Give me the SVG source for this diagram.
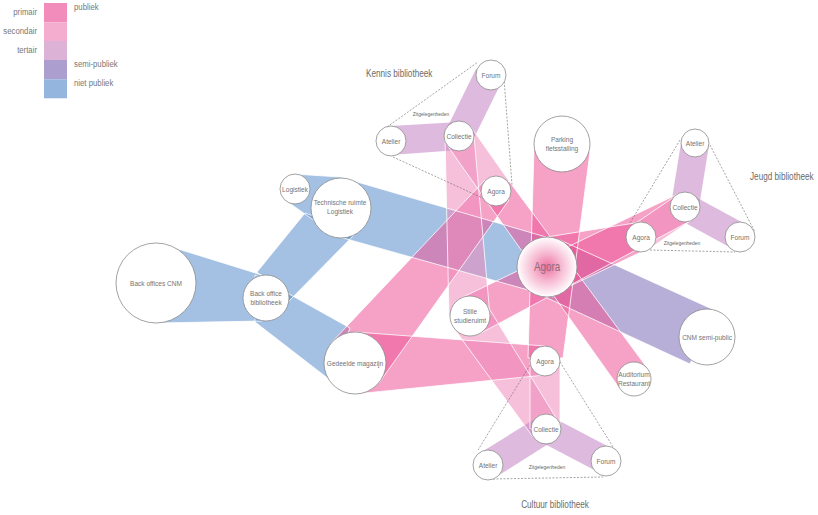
<svg xmlns="http://www.w3.org/2000/svg" xmlns:xlink="http://www.w3.org/1999/xlink" width="818" height="515" viewBox="0 0 818 515">
<style>
.f{stroke:none;fill-opacity:0.55}
.pri{fill:#ed5697}.sec{fill:#ef8bbb}.ter{fill:#c181c3}.semi{fill:#7e6db8}.blue{fill:#598ecc}
.e{fill:none;stroke:#fff;stroke-width:0.8}
.d{fill:none;stroke:#666;stroke-width:0.6;stroke-dasharray:2 1.5}
.n{fill:#fff;stroke:#8a8a8a;stroke-width:0.8}
text{font-family:"Liberation Sans",Arial,sans-serif;fill:#737373;transform-box:fill-box;transform:scaleX(0.82);transform-origin:50% 50%}
.l{font-size:8px;text-anchor:middle}
.t{font-size:10px;fill:#6b6b6b;transform-origin:0% 50%}
.tc{text-anchor:middle;transform-origin:50% 50%}
.z{font-size:6px;text-anchor:middle;fill:#666}
.g{font-size:9.5px;fill:#777;transform-origin:0% 50%}
.r{text-anchor:end;transform-origin:100% 50%}
</style>
<defs>
<radialGradient id="ag" cx="0.5" cy="0.5" r="0.5">
<stop offset="0" stop-color="#ef6fa0"/>
<stop offset="0.45" stop-color="#f6b6cf"/>
<stop offset="1" stop-color="#ffffff"/>
</radialGradient>
<polygon id="b1" points="175,248 262,275 262,321 158,323"/>
<polygon id="b2" points="255,275 350,328 330,380 255,322"/>
<polygon id="b3" points="257,272 305,213 357,232 288,302"/>
<polygon id="b4" points="294,174 340,177 546,237 553,297 336,236 288,202"/>
<polygon id="s1" points="560,240 712,309 690,364 545,297"/>
<polygon id="p1" points="534,148 590,152 563,358 528,358"/>
<polygon id="p2" points="331,343 485,180 509,200 379,383"/>
<polygon id="p3" points="355,332 545,346 545,375 355,394"/>
<polygon id="p5" points="509,181 648,369 620,389 485,199"/>
<polygon id="p6" points="461,298 678,194 692,220 479,334"/>
<polygon id="p7" points="547,237 641,222 641,252 547,297"/>
<polygon id="k2" points="471,127 509,181 485,199 447,145"/>
<polygon id="k3" points="445,136 474,136 490,316 449,316"/>
<polygon id="j2" points="677,195 693,219 649,249 633,225"/>
<polygon id="c2" points="530,360 560,360 560,429 530,429"/>
<polygon id="c3" points="487,305 558,421 533,437 453,327"/>
<polygon id="kt1" points="391,126 459,122 459,150 391,155"/>
<polygon id="kt2" points="476,69 502,81 472,142 446,130"/>
<polygon id="jt1" points="681,143 709,145 699,207 671,205"/>
<polygon id="jt2" points="692,195 747,225 733,249 678,219"/>
<polygon id="ct1" points="480,453 538,417 553,441 496,477"/>
<polygon id="ct2" points="539,441 552,417 613,449 600,473"/>
</defs>
<rect width="818" height="515" fill="#fff"/>

<g id="legend">
<rect x="44" y="3" width="23" height="19.3" fill="#f28cba"/>
<rect x="44" y="22.3" width="23" height="18.7" fill="#f4accf"/>
<rect x="44" y="41" width="23" height="19" fill="#dcb2d7"/>
<rect x="44" y="60" width="23" height="19.3" fill="#ac9fcf"/>
<rect x="44" y="79.3" width="23" height="19" fill="#93b5de"/>
<text class="g r" x="37" y="15">primair</text>
<text class="g r" x="37" y="34">secondair</text>
<text class="g r" x="37" y="53">tertair</text>
<text class="g" x="74" y="10">publiek</text>
<text class="g" x="74" y="67">semi-publiek</text>
<text class="g" x="74" y="86">niet publiek</text>
</g>

<g id="connectors">
<g id="fills">
<use xlink:href="#b1" class="f blue"/><use xlink:href="#b2" class="f blue"/><use xlink:href="#b3" class="f blue"/><use xlink:href="#b4" class="f blue"/>
<use xlink:href="#s1" class="f semi"/>
<use xlink:href="#p1" class="f pri"/><use xlink:href="#p2" class="f pri"/><use xlink:href="#p3" class="f pri"/><use xlink:href="#p5" class="f pri"/><use xlink:href="#p6" class="f pri"/><use xlink:href="#p7" class="f pri"/>
<use xlink:href="#k2" class="f sec"/><use xlink:href="#k3" class="f sec"/><use xlink:href="#j2" class="f sec"/><use xlink:href="#c2" class="f sec"/><use xlink:href="#c3" class="f sec"/>
<use xlink:href="#kt1" class="f ter"/><use xlink:href="#kt2" class="f ter"/><use xlink:href="#jt1" class="f ter"/><use xlink:href="#jt2" class="f ter"/><use xlink:href="#ct1" class="f ter"/><use xlink:href="#ct2" class="f ter"/>
</g>
<g id="edges">
<use xlink:href="#b1" class="e"/><use xlink:href="#b2" class="e"/><use xlink:href="#b3" class="e"/><use xlink:href="#b4" class="e"/>
<use xlink:href="#s1" class="e"/>
<use xlink:href="#p1" class="e"/><use xlink:href="#p2" class="e"/><use xlink:href="#p3" class="e"/><use xlink:href="#p5" class="e"/><use xlink:href="#p6" class="e"/><use xlink:href="#p7" class="e"/>
<use xlink:href="#k2" class="e"/><use xlink:href="#k3" class="e"/><use xlink:href="#j2" class="e"/><use xlink:href="#c2" class="e"/><use xlink:href="#c3" class="e"/>
</g>
<g id="zones">
<path class="d" d="M387,127 L478,62 M504,78 L512,185 M393,157 L487,200"/>
<path class="d" d="M680,140 L630,223 M710,145 L755,232 M650,250 L735,252"/>
<path class="d" d="M530,365 L478,450 M560,362 L615,450 M493,479 L603,477"/>
</g>
</g>

<g id="n-agora"><circle class="n" cx="547" cy="267" r="30" style="fill:url(#ag)"/><text x="547" y="271" style="font-size:12px;text-anchor:middle;fill:#8e6c7b">Agora</text></g>
<g id="n-parking"><circle class="n" cx="562" cy="144" r="28"/><text class="l" x="562" y="142">Parking</text><text class="l" x="562" y="151">fietsstalling</text></g>
<g id="n-k-forum"><circle class="n" cx="491" cy="75" r="15"/><text class="l" x="491" y="78">Forum</text></g>
<g id="n-k-collectie"><circle class="n" cx="459" cy="136" r="15"/><text class="l" x="459" y="139">Collectie</text></g>
<g id="n-k-atelier"><circle class="n" cx="391" cy="141" r="15"/><text class="l" x="391" y="144">Atelier</text></g>
<g id="n-k-agora"><circle class="n" cx="496" cy="191" r="15"/><text class="l" x="496" y="194">Agora</text></g>
<g id="n-j-atelier"><circle class="n" cx="695" cy="143" r="14"/><text class="l" x="695" y="146">Atelier</text></g>
<g id="n-j-collectie"><circle class="n" cx="685" cy="207" r="15"/><text class="l" x="685" y="210">Collectie</text></g>
<g id="n-j-agora"><circle class="n" cx="641" cy="237" r="15"/><text class="l" x="641" y="240">Agora</text></g>
<g id="n-j-forum"><circle class="n" cx="740" cy="237" r="15"/><text class="l" x="740" y="240">Forum</text></g>
<g id="n-stille"><circle class="n" cx="470" cy="316" r="20"/><text class="l" x="470" y="314">Stille</text><text class="l" x="470" y="323">studieruimt</text></g>
<g id="n-auditorium"><circle class="n" cx="634" cy="379" r="17"/><text class="l" x="634" y="377">Auditorium</text><text class="l" x="634" y="386">Restaurant</text></g>
<g id="n-cnm-semi"><circle class="n" cx="707" cy="337" r="28"/><text class="l" x="707" y="340">CNM semi-public</text></g>
<g id="n-gedeelde"><circle class="n" cx="355" cy="363" r="31"/><text class="l" x="355" y="366">Gedeelde magazijn</text></g>
<g id="n-c-agora"><circle class="n" cx="545" cy="361" r="15"/><text class="l" x="545" y="364">Agora</text></g>
<g id="n-c-collectie"><circle class="n" cx="546" cy="429" r="15"/><text class="l" x="546" y="432">Collectie</text></g>
<g id="n-c-atelier"><circle class="n" cx="488" cy="465" r="15"/><text class="l" x="488" y="468">Atelier</text></g>
<g id="n-c-forum"><circle class="n" cx="606" cy="461" r="15"/><text class="l" x="606" y="464">Forum</text></g>
<g id="n-backcnm"><circle class="n" cx="156" cy="283" r="40"/><text class="l" x="156" y="286">Back offices CNM</text></g>
<g id="n-backbib"><circle class="n" cx="266" cy="298" r="23"/><text class="l" x="266" y="296">Back office</text><text class="l" x="266" y="305">bibliotheek</text></g>
<g id="n-technische"><circle class="n" cx="341" cy="208" r="30"/><text class="l" x="340" y="205">Technische ruimte</text><text class="l" x="340" y="214">Logistiek</text></g>
<g id="n-logistiek"><circle class="n" cx="295" cy="189" r="15"/><text class="l" x="295" y="192">Logistiek</text></g>

<g id="labels">
<text class="t" x="366" y="77">Kennis bibliotheek</text>
<text class="t" x="750" y="180">Jeugd bibliotheek</text>
<text class="t tc" x="555" y="508">Cultuur bibliotheek</text>
<text class="z" x="431" y="116">Zitgelegenheden</text>
<text class="z" x="682" y="245">Zitgelegenheden</text>
<text class="z" x="547" y="469">Zitgelegenheden</text>
</g>
</svg>
